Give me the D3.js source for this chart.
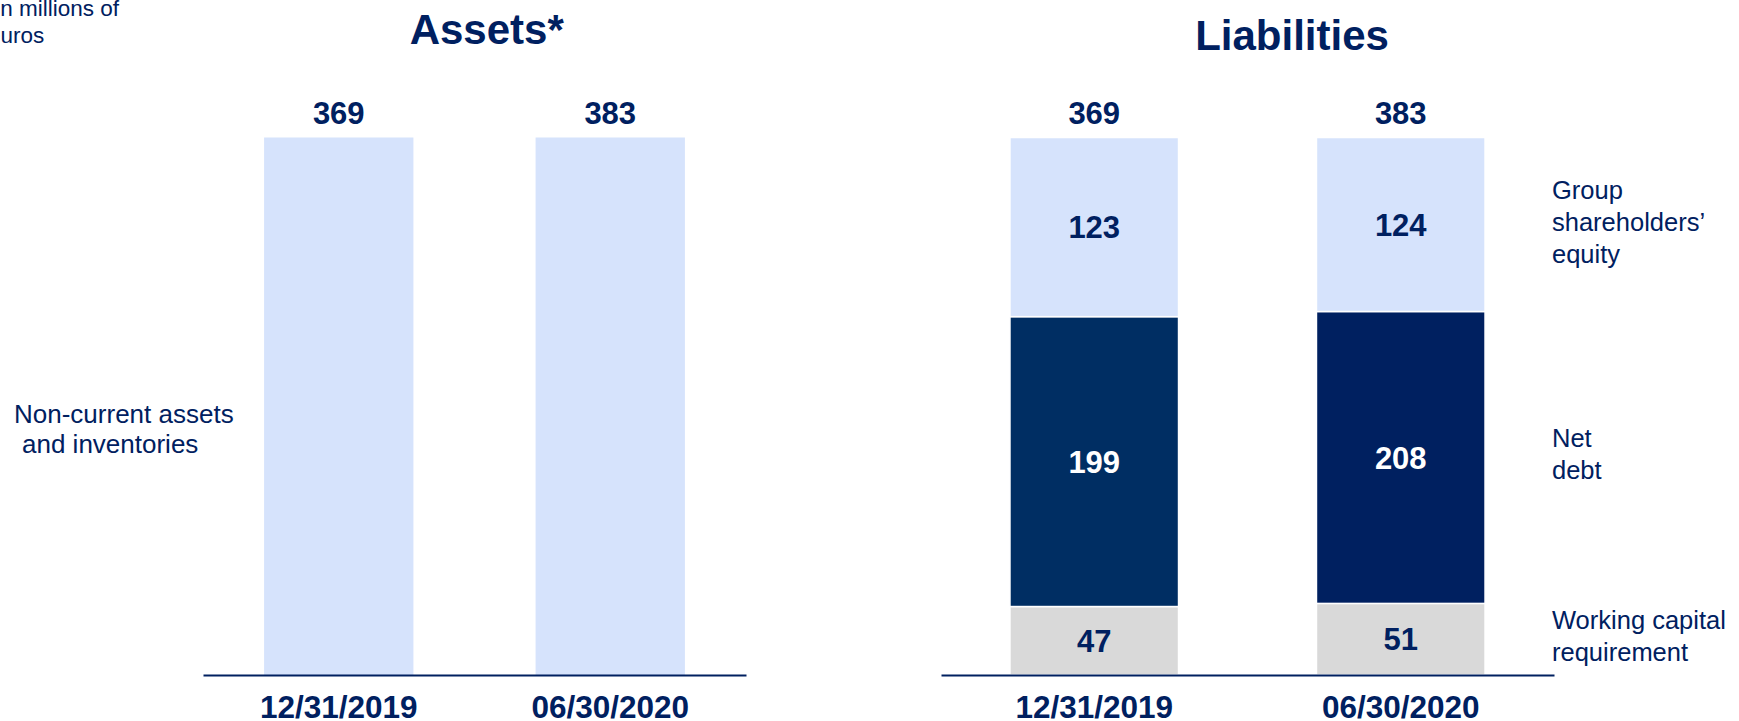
<!DOCTYPE html>
<html>
<head>
<meta charset="utf-8">
<script src="https://cdn.jsdelivr.net/npm/d3@7"></script>
<style>
  body { margin: 0; background: #fff; overflow: hidden; }
  text { font-family: "Liberation Sans", Arial, sans-serif; }
</style>
</head>
<body>
<svg id="chart" width="1739" height="721"></svg>
<script>
// values, in millions of euros
const dates = ["12/31/2019", "06/30/2020"];
const assetTotals = [369, 383];
const workingCapital = [47, 51];
const netDebt = [199, 208];
const equity = [123, 124];
const liabilityKeys = ["wcr", "debt", "equity"];
const liabilityLabels = [["Working capital", "requirement"], ["Net", "debt"], ["Group", "shareholders’", "equity"]];
const assetLabel = ["Non-current assets", "and inventories"];
const unitLabel = ["In millions of", "euros"];

const navy = "#002060";
const light = "#D6E3FC";
const grey = "#D9D9D9";
const debtColors = ["#002E63", "#002060"];

const svg = d3.select("#chart");
const plotTop = 137.5, plotBottom = 675;

const y = d3.scaleLinear().domain([0, 1]).range([plotBottom, plotTop]);

const xA = d3.scaleBand().domain(dates).range([203, 746])
    .paddingInner(0.45).paddingOuter(0.225);
const xL = d3.scaleBand().domain(dates).range([941, 1554])
    .paddingInner(0.45).paddingOuter(0.225);

// header bits
svg.append("g").selectAll("text")
  .data(unitLabel)
  .join("text")
    .attr("x", (d, i) => i == 0 ? -6 : -12)
    .attr("y", (d, i) => 16 + i * 26.7)
    .attr("font-size", 22.5)
    .attr("fill", navy)
    .text(d => d);

svg.append("text")
    .attr("x", 486.7).attr("y", 44)
    .attr("text-anchor", "middle")
    .attr("font-size", 42).attr("font-weight", "bold")
    .attr("fill", navy)
    .text("Assets*");

svg.append("text")
    .attr("x", 1292).attr("y", 50)
    .attr("text-anchor", "middle")
    .attr("font-size", 42).attr("font-weight", "bold")
    .attr("fill", navy)
    .text("Liabilities");

// ---- assets
const assetTable = dates.map((d, i) => ({date: d, assets: assetTotals[i]}));
const assetSeries = d3.stack().keys(["assets"]).offset(d3.stackOffsetExpand)(assetTable);

svg.append("g")
  .selectAll("rect")
  .data(assetSeries[0])
  .join("rect")
    .attr("x", d => xA(d.data.date))
    .attr("y", d => y(d[1]))
    .attr("width", xA.bandwidth())
    .attr("height", d => y(d[0]) - y(d[1]))
    .attr("fill", light);

svg.append("g")
  .selectAll("text")
  .data(assetTable)
  .join("text")
    .attr("x", d => xA(d.date) + xA.bandwidth() / 2)
    .attr("y", plotTop - 13.5)
    .attr("text-anchor", "middle")
    .attr("font-size", 31).attr("font-weight", "bold")
    .attr("fill", navy)
    .text(d => d.assets);

svg.append("g").selectAll("text")
  .data(assetLabel)
  .join("text")
    .attr("x", (d, i) => i == 0 ? 14 : 22)
    .attr("y", (d, i) => 422.7 + i * 30)
    .attr("font-size", 26)
    .attr("fill", navy)
    .text(d => d);

// ---- liabilities
const liabTable = dates.map((d, i) => ({
  date: d, wcr: workingCapital[i], debt: netDebt[i], equity: equity[i],
  total: workingCapital[i] + netDebt[i] + equity[i]
}));
const liabSeries = d3.stack().keys(liabilityKeys).offset(d3.stackOffsetExpand)(liabTable);

const fillFor = (key, i) => key == "debt" ? debtColors[i] : (key == "wcr" ? grey : light);

const gSeg = svg.append("g")
  .selectAll("g")
  .data(liabSeries)
  .join("g");

gSeg.selectAll("rect")
  .data(s => s.map((d, i) => ({d: d, key: s.key, i: i})))
  .join("rect")
    .attr("x", o => xL(o.d.data.date))
    .attr("y", o => y(o.d[1]))
    .attr("width", xL.bandwidth())
    .attr("height", o => y(o.d[0]) - y(o.d[1]))
    .attr("fill", o => fillFor(o.key, o.i))
    .attr("stroke", "#fff")
    .attr("stroke-width", 1.5);

gSeg.selectAll("text")
  .data(s => s.map((d, i) => ({d: d, key: s.key, i: i})))
  .join("text")
    .attr("x", o => xL(o.d.data.date) + xL.bandwidth() / 2)
    .attr("y", o => (y(o.d[0]) + y(o.d[1])) / 2)
    .attr("dy", "0.36em")
    .attr("text-anchor", "middle")
    .attr("font-size", 31).attr("font-weight", "bold")
    .attr("fill", o => o.key == "debt" ? "#fff" : navy)
    .text(o => o.d.data[o.key]);

svg.append("g")
  .selectAll("text")
  .data(liabTable)
  .join("text")
    .attr("x", d => xL(d.date) + xL.bandwidth() / 2)
    .attr("y", plotTop - 13.5)
    .attr("text-anchor", "middle")
    .attr("font-size", 31).attr("font-weight", "bold")
    .attr("fill", navy)
    .text(d => d.total);

// side labels, next to the last bar
const last = liabSeries.map(s => s[s.length - 1]);
svg.append("g")
  .selectAll("text")
  .data(liabilityLabels)
  .join("text")
    .attr("font-size", 25.5)
    .attr("fill", navy)
    .each(function(lines, k) {
      const mid = (y(last[k][0]) + y(last[k][1])) / 2;
      d3.select(this).selectAll("tspan")
        .data(lines)
        .join("tspan")
          .attr("x", 1552)
          .attr("y", (l, j) => mid - (lines.length - 1) * 16 + 6 + j * 32)
          .text(l => l);
    });

// axes
function drawAxis(x) {
  const g = svg.append("g")
      .attr("transform", `translate(0,${plotBottom})`)
      .call(d3.axisBottom(x).tickSize(0).tickSizeOuter(0).tickPadding(21));
  g.select(".domain").attr("stroke", navy).attr("stroke-width", 2);
  g.selectAll("text")
      .attr("font-size", 31.5).attr("font-weight", "bold")
      .attr("font-family", "'Liberation Sans', Arial, sans-serif")
      .attr("fill", navy);
}
drawAxis(xA);
drawAxis(xL);
</script>
</body>
</html>
